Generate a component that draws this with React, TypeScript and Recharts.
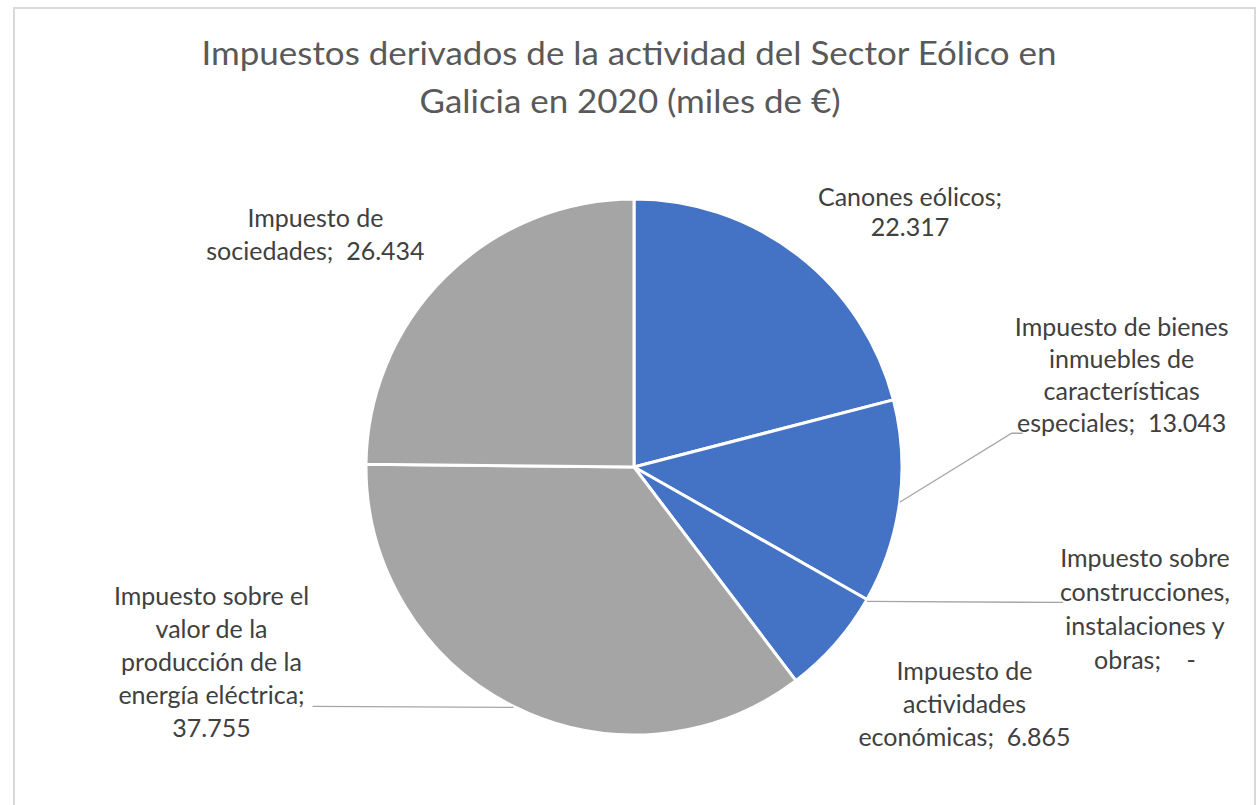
import { PieChart, Pie, Cell } from "recharts";

// data (miles de €)
const categories = [
  "Canones eólicos",
  "Impuesto de bienes inmuebles de características especiales",
  "Impuesto sobre construcciones, instalaciones y obras",
  "Impuesto de actividades económicas",
  "Impuesto sobre el valor de la producción de la energía eléctrica",
  "Impuesto de sociedades",
];
const values = [22317, 13043, 0, 6865, 37755, 26434];
const sliceColors = ["#4472C4", "#4472C4", "#4472C4", "#4472C4", "#A5A5A5", "#A5A5A5"];

// how each label wraps, like Excel did it
const labelLines = [
  ["Canones eólicos;"],
  ["Impuesto de bienes", "inmuebles de", "características", "especiales;"],
  ["Impuesto sobre", "construcciones,", "instalaciones y", "obras;"],
  ["Impuesto de", "actividades", "económicas;"],
  ["Impuesto sobre el", "valor de la", "producción de la", "energía eléctrica;"],
  ["Impuesto de", "sociedades;"],
];
const valueOnOwnLine = [true, false, false, false, true, false];

// label placement relative to the slice's outer edge point
const labelLayout = [
  { dx: 112, dy: -59, gap: 30, leader: null },
  { dx: 222, dy: -176, gap: 32, leader: [[0, 0], [112, -69], [123, -69]] },
  { dx: 278, dy: -42, gap: 34, leader: [[0, 2], [196, 3]] },
  { dx: 129, dy: 26, gap: 33, leader: null },
  { dx: -302, dy: -111, gap: 33, leader: [[0, 1], [-201, 0]] },
  { dx: -130, dy: -60, gap: 33, leader: null },
];

const data = categories.map((name, i) => ({ name, value: values[i] }));

const fmt = (v: number) =>
  v === 0 ? "  -" : String(v).replace(/\B(?=(\d{3})+(?!\d))/g, ".");

const RAD = Math.PI / 180;

const renderLabel = (props: any) => {
  const { cx, cy, midAngle, outerRadius, index, value } = props;
  const ox = cx + outerRadius * Math.cos(-midAngle * RAD);
  const oy = cy + outerRadius * Math.sin(-midAngle * RAD);
  const lay = labelLayout[index];
  const lines = [...labelLines[index]];
  if (valueOnOwnLine[index]) lines.push(fmt(value));
  else lines[lines.length - 1] = lines[lines.length - 1] + "  " + fmt(value);
  const tx = ox + lay.dx;
  const ty = oy + lay.dy;
  return (
    <g key={`lbl-${index}`}>
      {lay.leader && (
        <polyline
          points={lay.leader.map(([a, b]) => `${ox + a},${oy + b}`).join(" ")}
          fill="none"
          stroke="#A6A6A6"
          strokeWidth={1.3}
        />
      )}
      <text
        x={tx}
        y={ty}
        textAnchor="middle"
        dominantBaseline="central"
        fill="#404040"
        fontSize={25}
        fontFamily="Lato, 'Open Sans', sans-serif"
        style={{ whiteSpace: "pre" }}
      >
        {lines.map((l, k) => (
          <tspan key={k} x={tx} y={ty + k * lay.gap}>
            {l}
          </tspan>
        ))}
      </text>
    </g>
  );
};

export default function App() {
  return (
    <div
      style={{
        position: "fixed",
        left: 0,
        top: 0,
        width: 1259,
        height: 805,
        background: "#fff",
        overflow: "hidden",
      }}
    >
      <div
        style={{
          position: "absolute",
          left: 13,
          top: 7,
          width: 1243,
          height: 830,
          border: "2px solid #D9D9D9",
          boxSizing: "border-box",
        }}
      />
      <svg
        width={1259}
        height={140}
        style={{ position: "absolute", left: 0, top: 0 }}
      >
        <text
          x={629}
          y={65}
          textAnchor="middle"
          fill="#595959"
          fontSize={33}
          fontFamily="Lato, 'Open Sans', sans-serif"
          textLength={855}
          lengthAdjust="spacingAndGlyphs"
        >
          Impuestos derivados de la actividad del Sector Eólico en
        </text>
        <text
          x={630}
          y={113}
          textAnchor="middle"
          fill="#595959"
          fontSize={33}
          fontFamily="Lato, 'Open Sans', sans-serif"
          textLength={421}
          lengthAdjust="spacingAndGlyphs"
        >
          Galicia en 2020 (miles de €)
        </text>
      </svg>
      <div style={{ position: "absolute", left: 0, top: 0 }}>
        <PieChart width={1259} height={805} margin={{ top: 0, right: 0, bottom: 0, left: 0 }}>
          <Pie
            data={data}
            dataKey="value"
            nameKey="name"
            cx={634}
            cy={467}
            outerRadius={268}
            startAngle={90}
            endAngle={-270}
            stroke="#FFFFFF"
            strokeWidth={3}
            label={renderLabel}
            labelLine={false}
            isAnimationActive={false}
          >
            {data.map((d, i) => (
              <Cell key={d.name} fill={sliceColors[i]} />
            ))}
          </Pie>
        </PieChart>
      </div>
    </div>
  );
}
